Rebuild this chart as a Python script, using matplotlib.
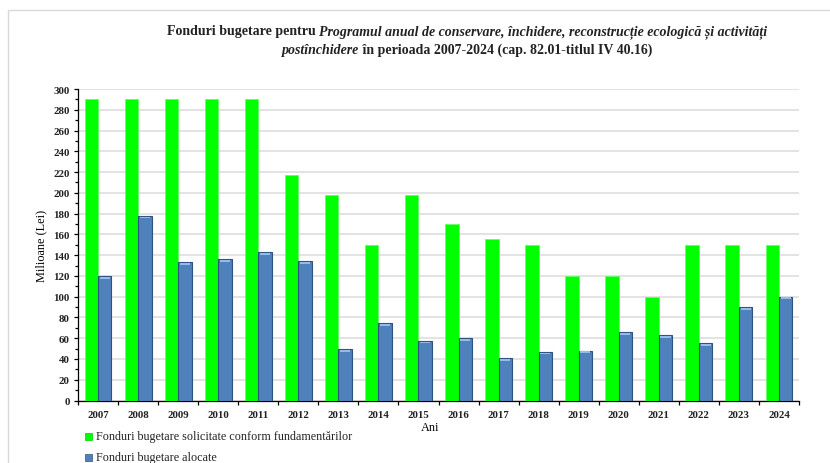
import numpy as np
import matplotlib
matplotlib.use('Agg')
import matplotlib.pyplot as plt
from matplotlib.patches import Rectangle
from matplotlib.ticker import MultipleLocator
from matplotlib.offsetbox import TextArea, HPacker, AnchoredOffsetbox

plt.rcParams['font.family'] = ['Liberation Serif', 'DejaVu Serif']

years = [str(y) for y in range(2007, 2025)]
solicitate = [290, 290, 290, 290, 290, 217, 198, 150, 198, 170, 156, 150, 120, 120, 100, 150, 150, 150]
alocate = [120, 178, 133, 136, 143, 134, 49.5, 74.5, 57.5, 60, 41, 47, 48, 65.5, 63, 55.5, 90, 100]

label_sol = 'Fonduri bugetare solicitate conform fundamentărilor'
label_alo = 'Fonduri bugetare alocate'

W, H = 830, 464
fig = plt.figure(figsize=(W / 100, H / 100), dpi=100)

# light frame around the chart area (open to the right/bottom)
fig.add_artist(Rectangle((8 / W, -0.1), 1.2, 1 - 11 / H + 0.1, transform=fig.transFigure,
                         fill=False, edgecolor='#d9d9d9', lw=1.0))

ax = fig.add_axes([78 / W, 1 - 401.5 / H, (799 - 78) / W, (401.5 - 90) / H])

x = np.arange(len(years))
bw = 0.335
ax.bar(x - bw / 2, solicitate, bw, color='#00ff00', edgecolor='#66ff66', lw=0.6, zorder=3)
ax.bar(x + bw / 2, alocate, bw, color='#4f81bd', edgecolor='#2f5282', lw=0.8, zorder=3)
# light rounded-looking cap on top of the blue bars
ax.bar(x + bw / 2, [1.8] * len(years), bw * 0.75, bottom=np.array(alocate) - 2.6,
       color='#95bbe8', lw=0, zorder=4)

ax.set_xlim(-0.5, len(years) - 0.5)
ax.set_ylim(0, 300)
ax.yaxis.set_major_locator(MultipleLocator(20))
ax.yaxis.set_minor_locator(MultipleLocator(10))
ax.grid(axis='y', color='#e0e0e0', lw=1.3, zorder=0)
ax.set_axisbelow(True)

ax.set_xticks(x)
ax.set_xticklabels(years, fontsize=7.8, fontweight='bold', color='#222222')
ax.set_xticks(np.arange(-0.5, len(years)), minor=True)
ax.tick_params(axis='x', which='major', length=0, pad=7)
ax.tick_params(axis='x', which='minor', length=3, direction='out', width=0.9)
ax.tick_params(axis='y', which='major', length=3, direction='out', labelsize=7.8, width=0.9, pad=3)
ax.tick_params(axis='y', which='minor', length=2, direction='out', width=0.9)
for t in ax.get_yticklabels():
    t.set_fontweight('bold')
    t.set_color('#222222')

for s in ['top', 'right']:
    ax.spines[s].set_visible(False)
ax.spines['left'].set_linewidth(0.9)
ax.spines['bottom'].set_linewidth(0.9)

ax.set_ylabel('Milioane (Lei)', fontsize=8.8, labelpad=4)
fig.text(430 / W, 1 - 428 / H, 'Ani', fontsize=8.8, ha='center', va='center')

# title with mixed bold / bold italic parts
tp = dict(fontsize=10, fontweight='bold', color='#222222')
line1 = HPacker(children=[
    TextArea('Fonduri bugetare pentru ', textprops=tp),
    TextArea('Programul anual de conservare, închidere, reconstrucție ecologică și activități',
             textprops=dict(tp, fontstyle='italic')),
], align='baseline', pad=0, sep=0)
line2 = HPacker(children=[
    TextArea('postînchidere', textprops=dict(tp, fontstyle='italic')),
    TextArea(' în perioada 2007-2024 (cap. 82.01-titlul IV 40.16)', textprops=tp),
], align='baseline', pad=0, sep=0)
for ln, yc in [(line1, 32), (line2, 50)]:
    box = AnchoredOffsetbox(loc='center', child=ln, pad=0, borderpad=0, frameon=False,
                            bbox_to_anchor=(467 / W, 1 - yc / H), bbox_transform=fig.transFigure)
    fig.add_artist(box)

# legend below the axis
for (lab, col, ec), yc in zip([(label_sol, '#00ff00', '#00cc00'), (label_alo, '#4f81bd', '#2f5282')], [437, 458]):
    fig.add_artist(Rectangle((85 / W, 1 - (yc + 3.5) / H), 7 / W, 7 / H, transform=fig.transFigure,
                             facecolor=col, edgecolor=ec, lw=0.5))
    fig.text(96 / W, 1 - yc / H, lab, fontsize=8.7, va='center', ha='left', color='#222222')

fig.savefig('out.png', dpi=100)
